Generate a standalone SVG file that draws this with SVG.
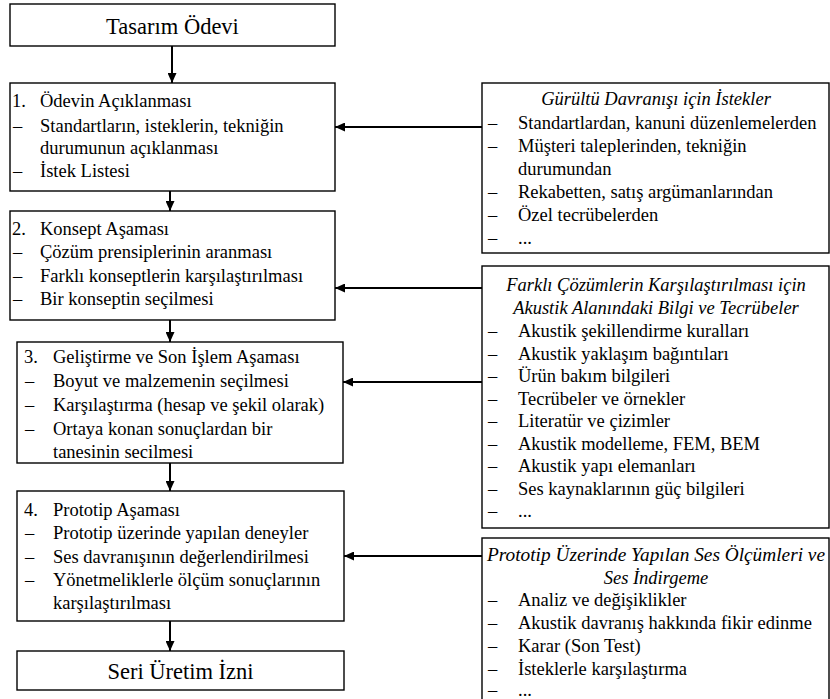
<svg xmlns="http://www.w3.org/2000/svg" width="830" height="699" viewBox="0 0 830 699">
<style>
.box{fill:#fff;stroke:#000;stroke-width:1.4}
text{font-family:"Liberation Serif","Times New Roman",serif;fill:#000}
.t{font-size:18.5px}
.h{font-size:22.5px;text-anchor:middle}
.i{font-size:18.5px;font-style:italic;text-anchor:middle}
.c line{stroke:#000;stroke-width:2;marker-end:url(#ah)}
</style>
<defs>
<marker id="ah" markerUnits="userSpaceOnUse" markerWidth="10" markerHeight="9" refX="10" refY="4.5" orient="auto">
<path d="M0,0 L10,4.5 L0,9 z" fill="#000"/>
</marker>
</defs>
<rect width="830" height="699" fill="#fff"/>
<g class="c" id="connectors">
<line x1="172" y1="46" x2="172" y2="83"/>
<line x1="170" y1="191" x2="170" y2="211"/>
<line x1="170" y1="320" x2="170" y2="342"/>
<line x1="170" y1="463" x2="170" y2="491"/>
<line x1="170" y1="621" x2="170" y2="651"/>
<line x1="482" y1="127" x2="335" y2="127"/>
<line x1="482" y1="288" x2="335" y2="288"/>
<line x1="482" y1="382" x2="343" y2="382"/>
<line x1="482" y1="556" x2="344" y2="556"/>
</g>
<g id="title">
<rect class="box" x="10" y="4" width="325" height="42"/>
<text class="h" x="172.5" y="34">Tasarım Ödevi</text>
</g>
<g id="step1">
<rect class="box" x="10" y="83" width="325" height="108"/>
<text class="t" x="12" y="107">1.</text><text class="t" x="40" y="107">Ödevin Açıklanması</text>
<text class="t" x="13" y="132">–</text><text class="t" x="40" y="132">Standartların, isteklerin, tekniğin</text>
<text class="t" x="40" y="154">durumunun açıklanması</text>
<text class="t" x="13" y="177">–</text><text class="t" x="40" y="177">İstek Listesi</text>
</g>
<g id="step2">
<rect class="box" x="10" y="211" width="325" height="109"/>
<text class="t" x="12" y="235">2.</text><text class="t" x="40" y="235">Konsept Aşaması</text>
<text class="t" x="13" y="258">–</text><text class="t" x="40" y="258">Çözüm prensiplerinin aranması</text>
<text class="t" x="13" y="282">–</text><text class="t" x="40" y="282">Farklı konseptlerin karşılaştırılması</text>
<text class="t" x="13" y="305">–</text><text class="t" x="40" y="305">Bir konseptin seçilmesi</text>
</g>
<g id="step3">
<rect class="box" x="17" y="342" width="326" height="121"/>
<text class="t" x="24" y="363">3.</text><text class="t" x="53" y="363">Geliştirme ve Son İşlem Aşaması</text>
<text class="t" x="25" y="387">–</text><text class="t" x="53" y="387">Boyut ve malzemenin seçilmesi</text>
<text class="t" x="25" y="411">–</text><text class="t" x="53" y="411">Karşılaştırma (hesap ve şekil olarak)</text>
<text class="t" x="25" y="435">–</text><text class="t" x="53" y="435">Ortaya konan sonuçlardan bir</text>
<text class="t" x="53" y="458">tanesinin secilmesi</text>
</g>
<g id="step4">
<rect class="box" x="17" y="491" width="327" height="130"/>
<text class="t" x="24" y="516">4.</text><text class="t" x="53" y="516">Prototip Aşaması</text>
<text class="t" x="25" y="539">–</text><text class="t" x="53" y="539">Prototip üzerinde yapılan deneyler</text>
<text class="t" x="25" y="563">–</text><text class="t" x="53" y="563">Ses davranışının değerlendirilmesi</text>
<text class="t" x="25" y="586">–</text><text class="t" x="53" y="586">Yönetmeliklerle ölçüm sonuçlarının</text>
<text class="t" x="53" y="609">karşılaştırılması</text>
</g>
<g id="approval">
<rect class="box" x="17" y="651" width="327" height="39"/>
<text class="h" x="180.5" y="679">Seri Üretim İzni</text>
</g>
<g id="req">
<rect class="box" x="482" y="83" width="347" height="170"/>
<text class="i" x="656" y="105">Gürültü Davranışı için İstekler</text>
<text class="t" x="488" y="129">–</text><text class="t" x="518" y="129">Standartlardan, kanuni düzenlemelerden</text>
<text class="t" x="488" y="152">–</text><text class="t" x="518" y="152">Müşteri taleplerinden, tekniğin</text>
<text class="t" x="518" y="175">durumundan</text>
<text class="t" x="488" y="198">–</text><text class="t" x="518" y="198">Rekabetten, satış argümanlarından</text>
<text class="t" x="488" y="221">–</text><text class="t" x="518" y="221">Özel tecrübelerden</text>
<text class="t" x="488" y="244">–</text><text class="t" x="518" y="244">...</text>
</g>
<g id="knowledge">
<rect class="box" x="482" y="266" width="347" height="262"/>
<text class="i" x="656" y="291">Farklı Çözümlerin Karşılaştırılması için</text>
<text class="i" x="656" y="314">Akustik Alanındaki Bilgi ve Tecrübeler</text>
<text class="t" x="488" y="337">–</text><text class="t" x="518" y="337">Akustik şekillendirme kuralları</text>
<text class="t" x="488" y="359.5">–</text><text class="t" x="518" y="359.5">Akustik yaklaşım bağıntıları</text>
<text class="t" x="488" y="382">–</text><text class="t" x="518" y="382">Ürün bakım bilgileri</text>
<text class="t" x="488" y="404.5">–</text><text class="t" x="518" y="404.5">Tecrübeler ve örnekler</text>
<text class="t" x="488" y="427">–</text><text class="t" x="518" y="427">Literatür ve çizimler</text>
<text class="t" x="488" y="449.5">–</text><text class="t" x="518" y="449.5">Akustik modelleme, FEM, BEM</text>
<text class="t" x="488" y="472">–</text><text class="t" x="518" y="472">Akustik yapı elemanları</text>
<text class="t" x="488" y="494.5">–</text><text class="t" x="518" y="494.5">Ses kaynaklarının güç bilgileri</text>
<text class="t" x="488" y="517">–</text><text class="t" x="518" y="517">...</text>
</g>
<g id="measure">
<rect class="box" x="482" y="538" width="347" height="170"/>
<text class="i" x="656" y="561" textLength="338" lengthAdjust="spacingAndGlyphs">Prototip Üzerinde Yapılan Ses Ölçümleri ve</text>
<text class="i" x="656" y="584">Ses İndirgeme</text>
<text class="t" x="488" y="606">–</text><text class="t" x="518" y="606">Analiz ve değişiklikler</text>
<text class="t" x="488" y="629">–</text><text class="t" x="518" y="629">Akustik davranış hakkında fikir edinme</text>
<text class="t" x="488" y="652">–</text><text class="t" x="518" y="652">Karar (Son Test)</text>
<text class="t" x="488" y="675">–</text><text class="t" x="518" y="675">İsteklerle karşılaştırma</text>
<text class="t" x="488" y="696">–</text><text class="t" x="518" y="696">...</text>
</g>
</svg>
